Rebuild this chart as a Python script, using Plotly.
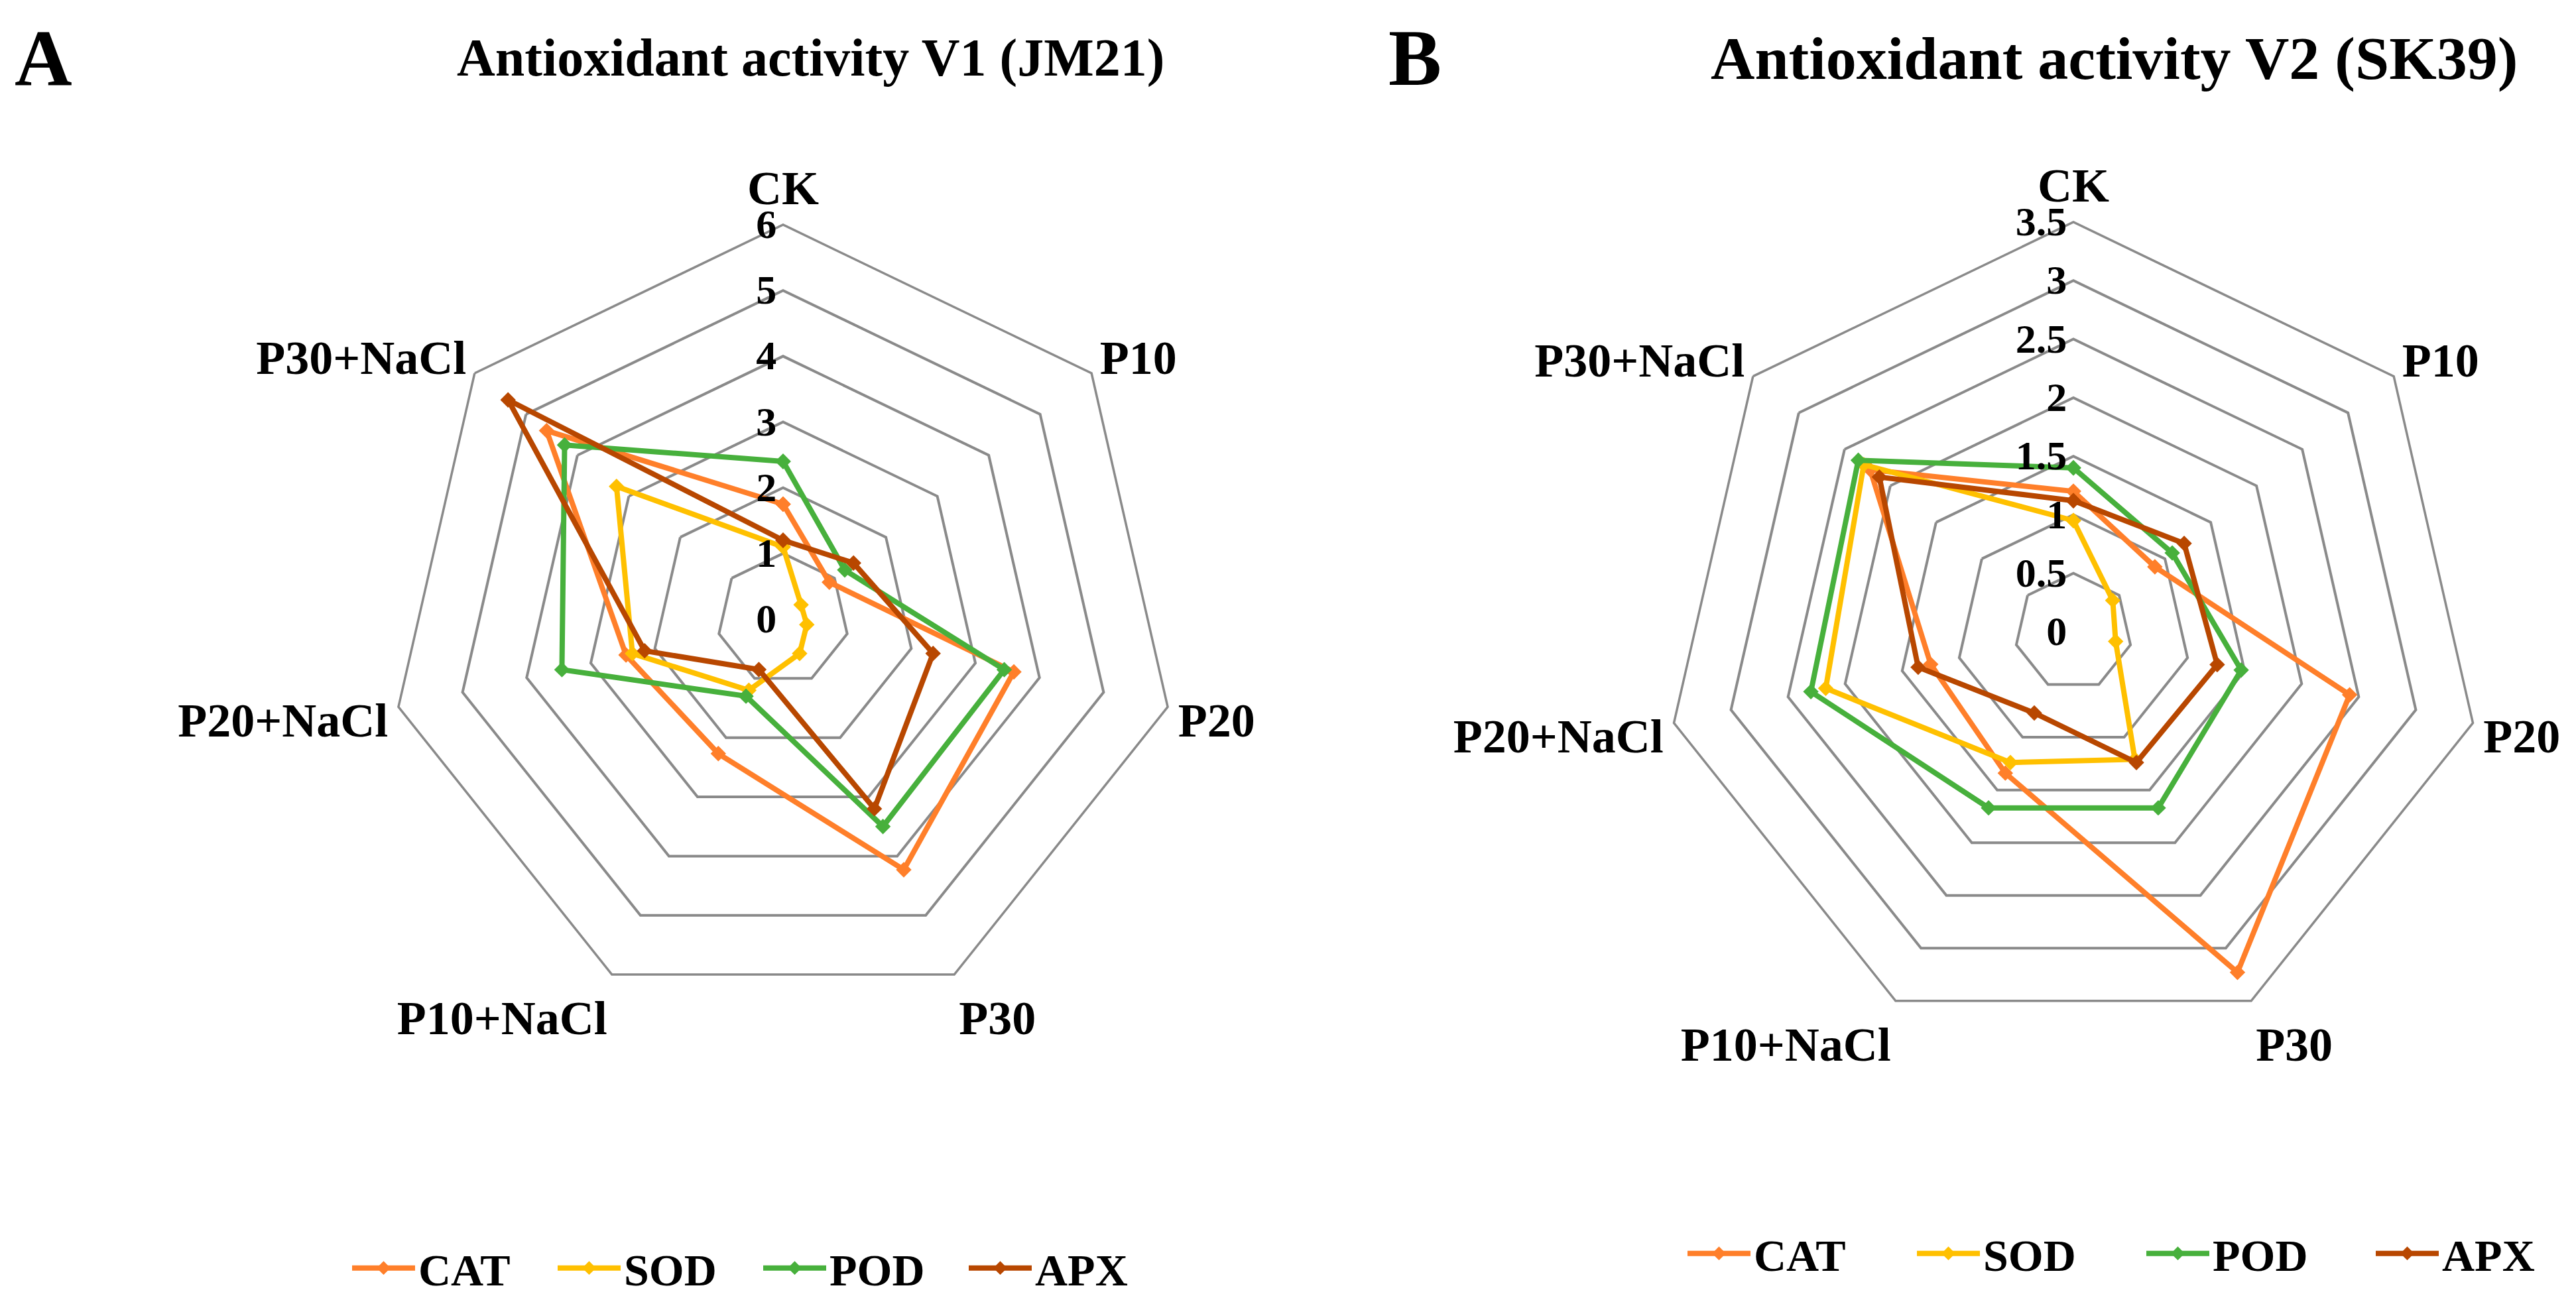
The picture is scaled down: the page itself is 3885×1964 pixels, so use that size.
import plotly.graph_objects as go

W, H = 3885, 1964

categories = ["CK", "P10", "P20", "P30", "P10+NaCl", "P20+NaCl", "P30+NaCl"]

# Panel A : Antioxidant activity V1 (JM21)
a_cat = [1.75, 0.90, 3.60, 4.23, 2.27, 2.45, 4.60]
a_sod = [1.10, 0.35, 0.37, 0.58, 1.20, 2.35, 3.24]
a_pod = [2.40, 1.20, 3.45, 3.50, 1.30, 3.45, 4.25]
a_apx = [1.20, 1.37, 2.34, 3.20, 0.85, 2.16, 5.35]

# Panel B : Antioxidant activity V2 (SK39)
b_cat = [1.20, 0.89, 2.42, 3.23, 1.34, 1.25, 2.22]
b_sod = [0.95, 0.43, 0.37, 1.21, 1.24, 2.17, 2.29]
b_pod = [1.40, 1.08, 1.47, 1.67, 1.67, 2.30, 2.35]
b_apx = [1.12, 1.21, 1.26, 1.24, 0.77, 1.36, 2.12]

series_names = ["CAT", "SOD", "POD", "APX"]
colors = ["#FF7F2A", "#FFC000", "#47B03C", "#B84700"]

a_ticks = [0, 1, 2, 3, 4, 5, 6]
b_ticks = [0, 0.5, 1, 1.5, 2, 2.5, 3, 3.5]
b_ticklabels = ["0", "0.5", "1", "1.5", "2", "2.5", "3", "3.5"]

FONT = "Liberation Serif"
GRID = "#8A8A8A"

fig = go.Figure()


def closed(v):
    return list(v) + [v[0]]


for name, col, va in zip(series_names, colors, [a_cat, a_sod, a_pod, a_apx]):
    fig.add_trace(go.Scatterpolar(
        r=closed(va), theta=closed(categories), name=name, subplot="polar",
        mode="lines+markers", line=dict(color=col, width=8),
        marker=dict(symbol="diamond", size=18, color=col),
        legend="legend",
    ))

for name, col, vb in zip(series_names, colors, [b_cat, b_sod, b_pod, b_apx]):
    fig.add_trace(go.Scatterpolar(
        r=closed(vb), theta=closed(categories), name=name, subplot="polar2",
        mode="lines+markers", line=dict(color=col, width=8),
        marker=dict(symbol="diamond", size=18, color=col),
        legend="legend2",
    ))


def polar_layout(dom_x, dom_y, rng, tickvals, ticktext):
    return dict(
        domain=dict(x=dom_x, y=dom_y),
        gridshape="linear",
        bgcolor="white",
        radialaxis=dict(
            range=rng, tickvals=tickvals, ticktext=ticktext, angle=90,
            side="counterclockwise", tickangle=90, showline=False, ticks="",
            showgrid=True, gridcolor=GRID, gridwidth=3.5,
            tickfont=dict(family=FONT, size=62, color="black", weight="bold"),
        ),
        angularaxis=dict(
            rotation=90, direction="clockwise", type="category",
            categoryarray=categories, showgrid=False, showline=True,
            linecolor=GRID, linewidth=3.5, ticks="",
            tickfont=dict(family=FONT, size=72, color="black", weight="bold"),
        ),
    )


def px_dom(cx, cy, R):
    return ([(cx - R) / W, (cx + R) / W], [1 - (cy + R) / H, 1 - (cy - R) / H])


ax, ay = px_dom(1173, 926, 595)
bx, by = px_dom(3119, 945, 618)

fig.update_layout(
    width=W, height=H, autosize=False,
    margin=dict(l=0, r=0, t=0, b=0, autoexpand=False),
    paper_bgcolor="white", plot_bgcolor="white",
    font=dict(family=FONT, color="black"),
    polar=polar_layout(ax, ay, [0, 6], a_ticks, [str(t) for t in a_ticks]),
    polar2=polar_layout(bx, by, [0, 3.5], b_ticks, b_ticklabels),
    legend=dict(
        orientation="h", x=1138 / W, y=1 - 1905 / H, xanchor="center", yanchor="middle",
        font=dict(family=FONT, size=68, color="black", weight="bold"),
        itemwidth=95, entrywidth=200, bgcolor="rgba(0,0,0,0)",
    ),
    legend2=dict(
        orientation="h", x=3224 / W, y=1 - 1883 / H, xanchor="center", yanchor="middle",
        font=dict(family=FONT, size=68, color="black", weight="bold"),
        itemwidth=95, entrywidth=236, bgcolor="rgba(0,0,0,0)",
    ),
    showlegend=True,
    annotations=[
        dict(text="<b>A</b>", x=57 / W, y=1 - 80 / H, xref="paper", yref="paper",
             xanchor="center", yanchor="middle",
             showarrow=False, font=dict(family=FONT, size=120, color="black")),
        dict(text="<b>Antioxidant activity V1 (JM21)</b>", x=1214 / W, y=1 - 80 / H,
             xref="paper", yref="paper", showarrow=False,
             xanchor="center", yanchor="middle",
             font=dict(family=FONT, size=80, color="black")),
        dict(text="<b>B</b>", x=2126 / W, y=1 - 80 / H, xref="paper", yref="paper",
             xanchor="center", yanchor="middle",
             showarrow=False, font=dict(family=FONT, size=120, color="black")),
        dict(text="<b>Antioxidant activity V2 (SK39)</b>", x=3180 / W, y=1 - 80 / H,
             xref="paper", yref="paper", showarrow=False,
             xanchor="center", yanchor="middle",
             font=dict(family=FONT, size=92, color="black")),
    ],
)

fig.write_html("out.html")
